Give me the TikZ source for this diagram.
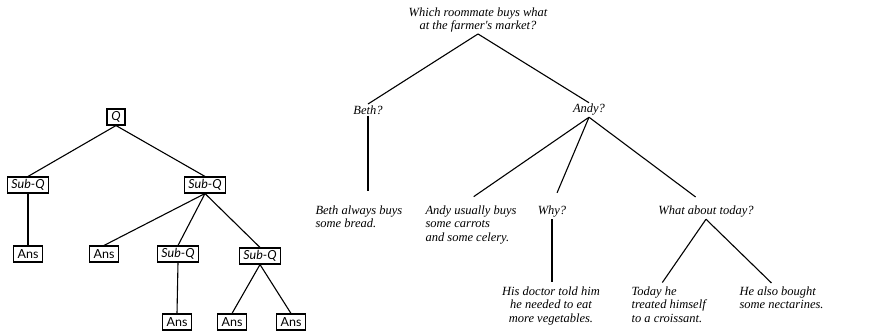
\documentclass[tikz,border=0pt]{standalone}
\usepackage{fontspec}
\newfontfamily\boxfont{Lato}
\newfontfamily\talkfont{Liberation Serif}

\begin{document}
\begin{tikzpicture}[x=1pt,y=-1pt,line width=1.1pt,
        qbox/.style={draw,font=\boxfont\fontsize{12.5}{14}\selectfont,
                inner xsep=4pt,inner ysep=1.5pt,minimum height=16pt,minimum width=18pt},
        say/.style={font=\talkfont\itshape\fontsize{12.5}{13.5}\selectfont,inner sep=1pt},
        far/.style={shorten >=13pt}]
        \useasboundingbox (0,0) rectangle (886,334);

        % draw the small tree of boxes
        \node[qbox] (q)     at (116,117) {\itshape Q};
        \node[qbox] (subl)  at (28,185)  {\itshape Sub-Q};
        \node[qbox] (subr)  at (205,185) {\itshape Sub-Q};
        \node[qbox] (ansl)  at (28,254)  {Ans};
        \node[qbox] (ansm)  at (104,254) {Ans};
        \node[qbox] (subm)  at (178,254) {\itshape Sub-Q};
        \node[qbox] (subrr) at (260,256) {\itshape Sub-Q};
        \node[qbox] (ansa)  at (177,322) {Ans};
        \node[qbox] (ansb)  at (232,322) {Ans};
        \node[qbox] (ansc)  at (291,322) {Ans};

        \foreach \a/\b in {q/subl,q/subr,subl/ansl,subr/ansm,subr/subm,
                subr/subrr,subm/ansa,subrr/ansb,subrr/ansc}
                \draw (\a.south) -- (\b.north);

        % draw the questions of the big tree
        \node[say,align=center] (root) at (478,20)
                {Which roommate buys what\\at the farmer's market?};
        \node[say] (beth)  at (368,110) {Beth?};
        \node[say] (andy)  at (589,110) {Andy?};
        \node[say] (why)   at (552,212) {Why?};
        \node[say] (today) at (706,212) {What about today?};

        % draw the answers
        \node[say,align=left,anchor=north west] (bread) at (314,204)
                {Beth always buys\\some bread.};
        \node[say,align=left,anchor=north west] (carrots) at (424,204)
                {Andy usually buys\\some carrots\\and some celery.};
        \node[say,align=center,anchor=north] (doctor) at (551,285)
                {His doctor told him\\he needed to eat\\more vegetables.};
        \node[say,align=left,anchor=north west] (croissant) at (630,285)
                {Today he\\treated himself\\to a croissant.};
        \node[say,align=left,anchor=north west] (nectar) at (738,285)
                {He also bought\\some nectarines.};

        % the lines between them
        \draw (root.south) -- (beth.north);
        \draw (root.south) -- (andy.north);
        \draw[far] (beth.south) -- (beth.south |- bread.north);
        \draw[far] (andy.south) -- ([xshift=-8pt]carrots.north);
        \draw[far] (andy.south) -- (why.north);
        \draw[far] (andy.south) -- (today.north);
        \draw[shorten >=3pt] (why.south) -- (why.south |- doctor.north);
        \draw[shorten >=3pt] (today.south) -- ([xshift=-8pt]croissant.north);
        \draw[shorten >=3pt] (today.south) -- ([xshift=-8pt]nectar.north);
\end{tikzpicture}
\end{document}
